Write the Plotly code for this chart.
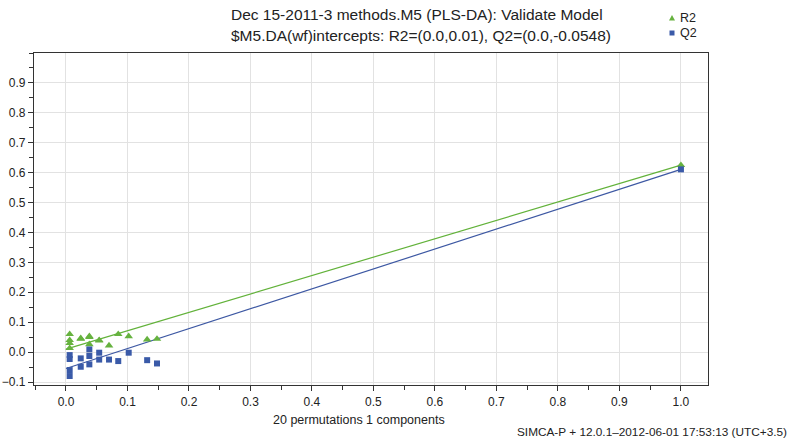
import plotly.graph_objects as go

# Permutation results (correlation of permuted Y with original Y)
perm_corr = [0.006, 0.006, 0.006, 0.006, 0.024, 0.024, 0.038, 0.038, 0.038,
             0.054, 0.054, 0.070, 0.085, 0.102, 0.132, 0.148]
perm_r2 = [0.060, 0.040, 0.030, 0.013, 0.044, 0.046, 0.053, 0.026, 0.050,
           0.040, 0.038, 0.022, 0.060, 0.053, 0.042, 0.044]
perm_q2 = [-0.010, -0.023, -0.060, -0.080, -0.021, -0.049, 0.009, -0.013, -0.041,
           -0.002, -0.025, -0.025, -0.030, -0.002, -0.027, -0.038]

# Original model
orig_corr = 1.0
orig_r2 = 0.625
orig_q2 = 0.611

# Regression line intercepts
r2_intercept = 0.01
q2_intercept = -0.0548

x_ticks = [0.0, 0.1, 0.2, 0.3, 0.4, 0.5, 0.6, 0.7, 0.8, 0.9, 1.0]
y_ticks = [-0.1, 0.0, 0.1, 0.2, 0.3, 0.4, 0.5, 0.6, 0.7, 0.8, 0.9]

GREEN = "#66b23f"
GREEN_LINE = "#62b23a"
BLUE = "#3a5aa8"
BLUE_LINE = "#3d58a3"

# plot area in page pixels (for placing annotations)
L, R, T, B = 34, 708, 53, 385
def px(xp):
    return (xp - L) / (R - L)
def py(yp):
    return (B - yp) / (B - T)

fig = go.Figure()

fig.add_trace(go.Scatter(x=[0.0, orig_corr], y=[r2_intercept, orig_r2], mode="lines",
                         line=dict(color=GREEN_LINE, width=1.2), showlegend=False,
                         hoverinfo="skip"))
fig.add_trace(go.Scatter(x=[0.0, orig_corr], y=[q2_intercept, orig_q2], mode="lines",
                         line=dict(color=BLUE_LINE, width=1.2), showlegend=False,
                         hoverinfo="skip"))

fig.add_trace(go.Scatter(x=perm_corr + [orig_corr], y=perm_r2 + [orig_r2], mode="markers",
                         name="R2", showlegend=False,
                         marker=dict(symbol="triangle-up", size=7.5, color=GREEN)))
fig.add_trace(go.Scatter(x=perm_corr + [orig_corr], y=perm_q2 + [orig_q2], mode="markers",
                         name="Q2", showlegend=False,
                         marker=dict(symbol="square", size=6, color=BLUE)))

axis_font = dict(family="Arial, Liberation Sans, sans-serif", size=12, color="#222")

fig.update_layout(
    width=799, height=441,
    margin=dict(l=L, r=799 - R, t=T, b=441 - B, autoexpand=False),
    paper_bgcolor="white", plot_bgcolor="white",
    font=dict(family="Arial, Liberation Sans, sans-serif", size=12, color="#222"),
    showlegend=False,
    xaxis=dict(range=[-0.052, 1.044], tickvals=x_ticks, tickformat=".1f",
               automargin=False,
               showgrid=True, gridcolor="#e2e2e2", gridwidth=1, zeroline=False,
               showline=True, linecolor="#333", linewidth=1.2, mirror=True,
               ticks="outside", ticklen=5, tickcolor="#333", tickfont=axis_font,
               minor=dict(dtick=0.05, tick0=0, ticks="outside", ticklen=4,
                          tickcolor="#333", showgrid=False)),
    yaxis=dict(range=[-0.11, 1.0], tickvals=y_ticks, tickformat=".1f",
               automargin=False,
               showgrid=True, gridcolor="#e2e2e2", gridwidth=1, zeroline=False,
               showline=True, linecolor="#333", linewidth=1.2, mirror=True,
               ticks="outside", ticklen=5, tickcolor="#333", tickfont=axis_font,
               minor=dict(dtick=0.05, tick0=0, ticks="outside", ticklen=4,
                          tickcolor="#333", showgrid=False)),
)

# legend (drawn manually: small symbol + label)
lx, ly1, ly2 = 672, 18, 33
fig.add_shape(type="path", xref="paper", yref="paper",
              path=f"M {px(lx-3)},{py(ly1+2.5)} L {px(lx+3)},{py(ly1+2.5)} L {px(lx)},{py(ly1-3)} Z",
              fillcolor=GREEN, line=dict(width=0))
fig.add_shape(type="rect", xref="paper", yref="paper",
              x0=px(lx - 2.5), x1=px(lx + 2.5), y0=py(ly2 + 2.5), y1=py(ly2 - 2.5),
              fillcolor=BLUE, line=dict(width=0))
fig.add_annotation(text="R2", xref="paper", yref="paper", x=px(lx + 6), y=py(ly1),
                   xanchor="left", yanchor="middle", showarrow=False,
                   font=dict(size=12.5, color="#222"))
fig.add_annotation(text="Q2", xref="paper", yref="paper", x=px(lx + 6), y=py(ly2),
                   xanchor="left", yanchor="middle", showarrow=False,
                   font=dict(size=12.5, color="#222"))

title_font = dict(family="Arial, Liberation Sans, sans-serif", size=15.5, color="#222")
fig.add_annotation(text="Dec 15-2011-3 methods.M5 (PLS-DA): Validate Model",
                   xref="paper", yref="paper", x=px(229), y=py(15),
                   xanchor="left", yanchor="middle", showarrow=False, font=title_font)
fig.add_annotation(text="$M5.DA(wf)intercepts: R2=(0.0,0.01), Q2=(0.0,-0.0548)",
                   xref="paper", yref="paper", x=px(229), y=py(35),
                   xanchor="left", yanchor="middle", showarrow=False, font=title_font)
fig.add_annotation(text="20 permutations 1 components",
                   xref="paper", yref="paper", x=px(359), y=py(420),
                   xanchor="center", yanchor="middle", showarrow=False,
                   font=dict(size=12.5, color="#222"))
fig.add_annotation(text="SIMCA-P + 12.0.1–2012-06-01 17:53:13 (UTC+3.5)",
                   xref="paper", yref="paper", x=px(789), y=py(432),
                   xanchor="right", yanchor="middle", showarrow=False,
                   font=dict(size=11.8, color="#222"))

fig.write_html("out.html", config={"displayModeBar": False},
               post_script="document.body.style.margin='0';")
